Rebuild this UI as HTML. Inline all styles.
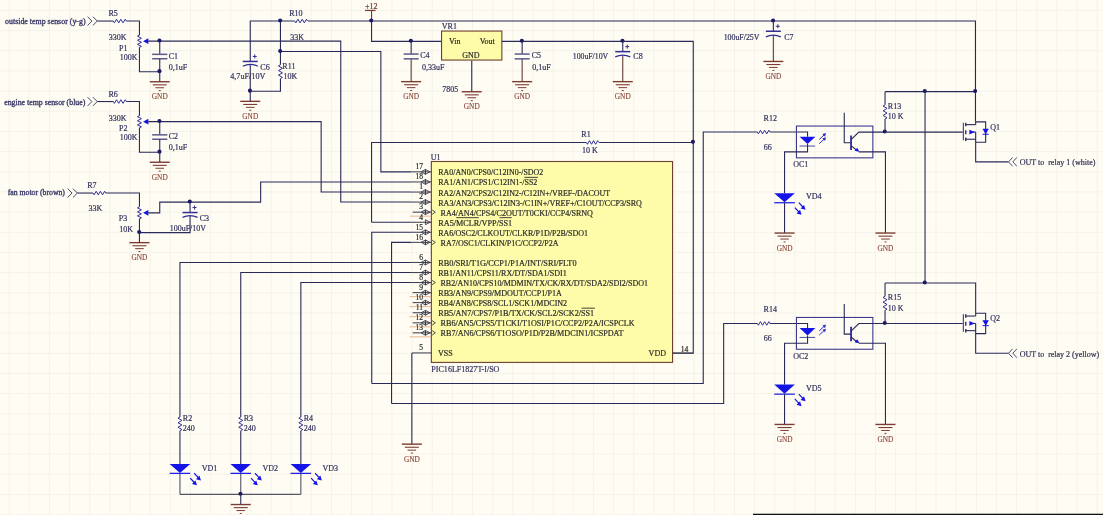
<!DOCTYPE html>
<html><head><meta charset="utf-8"><style>
html,body{margin:0;padding:0;background:#FFFCF4;width:1103px;height:515px;overflow:hidden}
svg{display:block;will-change:transform}
</style></head><body>
<svg width="1103" height="515" viewBox="0 0 1103 515"><rect x="0" y="0" width="1103" height="515" fill="#FFFCF4"/>
<line x1="9.1" y1="0.0" x2="9.1" y2="515.0" stroke="#F5F2EA" stroke-width="1.0"/>
<line x1="29.2" y1="0.0" x2="29.2" y2="515.0" stroke="#F5F2EA" stroke-width="1.0"/>
<line x1="49.4" y1="0.0" x2="49.4" y2="515.0" stroke="#F5F2EA" stroke-width="1.0"/>
<line x1="69.5" y1="0.0" x2="69.5" y2="515.0" stroke="#F5F2EA" stroke-width="1.0"/>
<line x1="89.7" y1="0.0" x2="89.7" y2="515.0" stroke="#F5F2EA" stroke-width="1.0"/>
<line x1="109.8" y1="0.0" x2="109.8" y2="515.0" stroke="#F5F2EA" stroke-width="1.0"/>
<line x1="130.0" y1="0.0" x2="130.0" y2="515.0" stroke="#F5F2EA" stroke-width="1.0"/>
<line x1="150.2" y1="0.0" x2="150.2" y2="515.0" stroke="#F5F2EA" stroke-width="1.0"/>
<line x1="170.3" y1="0.0" x2="170.3" y2="515.0" stroke="#F5F2EA" stroke-width="1.0"/>
<line x1="190.5" y1="0.0" x2="190.5" y2="515.0" stroke="#F5F2EA" stroke-width="1.0"/>
<line x1="210.6" y1="0.0" x2="210.6" y2="515.0" stroke="#F5F2EA" stroke-width="1.0"/>
<line x1="230.8" y1="0.0" x2="230.8" y2="515.0" stroke="#F5F2EA" stroke-width="1.0"/>
<line x1="250.9" y1="0.0" x2="250.9" y2="515.0" stroke="#F5F2EA" stroke-width="1.0"/>
<line x1="271.1" y1="0.0" x2="271.1" y2="515.0" stroke="#F5F2EA" stroke-width="1.0"/>
<line x1="291.2" y1="0.0" x2="291.2" y2="515.0" stroke="#F5F2EA" stroke-width="1.0"/>
<line x1="311.3" y1="0.0" x2="311.3" y2="515.0" stroke="#F5F2EA" stroke-width="1.0"/>
<line x1="331.5" y1="0.0" x2="331.5" y2="515.0" stroke="#F5F2EA" stroke-width="1.0"/>
<line x1="351.6" y1="0.0" x2="351.6" y2="515.0" stroke="#F5F2EA" stroke-width="1.0"/>
<line x1="371.8" y1="0.0" x2="371.8" y2="515.0" stroke="#F5F2EA" stroke-width="1.0"/>
<line x1="391.9" y1="0.0" x2="391.9" y2="515.0" stroke="#F5F2EA" stroke-width="1.0"/>
<line x1="412.1" y1="0.0" x2="412.1" y2="515.0" stroke="#F5F2EA" stroke-width="1.0"/>
<line x1="432.2" y1="0.0" x2="432.2" y2="515.0" stroke="#F5F2EA" stroke-width="1.0"/>
<line x1="452.4" y1="0.0" x2="452.4" y2="515.0" stroke="#F5F2EA" stroke-width="1.0"/>
<line x1="472.5" y1="0.0" x2="472.5" y2="515.0" stroke="#F5F2EA" stroke-width="1.0"/>
<line x1="492.7" y1="0.0" x2="492.7" y2="515.0" stroke="#F5F2EA" stroke-width="1.0"/>
<line x1="512.8" y1="0.0" x2="512.8" y2="515.0" stroke="#F5F2EA" stroke-width="1.0"/>
<line x1="533.0" y1="0.0" x2="533.0" y2="515.0" stroke="#F5F2EA" stroke-width="1.0"/>
<line x1="553.1" y1="0.0" x2="553.1" y2="515.0" stroke="#F5F2EA" stroke-width="1.0"/>
<line x1="573.3" y1="0.0" x2="573.3" y2="515.0" stroke="#F5F2EA" stroke-width="1.0"/>
<line x1="593.4" y1="0.0" x2="593.4" y2="515.0" stroke="#F5F2EA" stroke-width="1.0"/>
<line x1="613.6" y1="0.0" x2="613.6" y2="515.0" stroke="#F5F2EA" stroke-width="1.0"/>
<line x1="633.7" y1="0.0" x2="633.7" y2="515.0" stroke="#F5F2EA" stroke-width="1.0"/>
<line x1="653.9" y1="0.0" x2="653.9" y2="515.0" stroke="#F5F2EA" stroke-width="1.0"/>
<line x1="674.0" y1="0.0" x2="674.0" y2="515.0" stroke="#F5F2EA" stroke-width="1.0"/>
<line x1="694.2" y1="0.0" x2="694.2" y2="515.0" stroke="#F5F2EA" stroke-width="1.0"/>
<line x1="714.3" y1="0.0" x2="714.3" y2="515.0" stroke="#F5F2EA" stroke-width="1.0"/>
<line x1="734.5" y1="0.0" x2="734.5" y2="515.0" stroke="#F5F2EA" stroke-width="1.0"/>
<line x1="754.6" y1="0.0" x2="754.6" y2="515.0" stroke="#F5F2EA" stroke-width="1.0"/>
<line x1="774.8" y1="0.0" x2="774.8" y2="515.0" stroke="#F5F2EA" stroke-width="1.0"/>
<line x1="794.9" y1="0.0" x2="794.9" y2="515.0" stroke="#F5F2EA" stroke-width="1.0"/>
<line x1="815.1" y1="0.0" x2="815.1" y2="515.0" stroke="#F5F2EA" stroke-width="1.0"/>
<line x1="835.2" y1="0.0" x2="835.2" y2="515.0" stroke="#F5F2EA" stroke-width="1.0"/>
<line x1="855.4" y1="0.0" x2="855.4" y2="515.0" stroke="#F5F2EA" stroke-width="1.0"/>
<line x1="875.5" y1="0.0" x2="875.5" y2="515.0" stroke="#F5F2EA" stroke-width="1.0"/>
<line x1="895.7" y1="0.0" x2="895.7" y2="515.0" stroke="#F5F2EA" stroke-width="1.0"/>
<line x1="915.8" y1="0.0" x2="915.8" y2="515.0" stroke="#F5F2EA" stroke-width="1.0"/>
<line x1="936.0" y1="0.0" x2="936.0" y2="515.0" stroke="#F5F2EA" stroke-width="1.0"/>
<line x1="956.1" y1="0.0" x2="956.1" y2="515.0" stroke="#F5F2EA" stroke-width="1.0"/>
<line x1="976.3" y1="0.0" x2="976.3" y2="515.0" stroke="#F5F2EA" stroke-width="1.0"/>
<line x1="996.4" y1="0.0" x2="996.4" y2="515.0" stroke="#F5F2EA" stroke-width="1.0"/>
<line x1="1016.6" y1="0.0" x2="1016.6" y2="515.0" stroke="#F5F2EA" stroke-width="1.0"/>
<line x1="1036.7" y1="0.0" x2="1036.7" y2="515.0" stroke="#F5F2EA" stroke-width="1.0"/>
<line x1="1056.9" y1="0.0" x2="1056.9" y2="515.0" stroke="#F5F2EA" stroke-width="1.0"/>
<line x1="1077.0" y1="0.0" x2="1077.0" y2="515.0" stroke="#F5F2EA" stroke-width="1.0"/>
<line x1="1097.2" y1="0.0" x2="1097.2" y2="515.0" stroke="#F5F2EA" stroke-width="1.0"/>
<line x1="0.0" y1="10.4" x2="1103.0" y2="10.4" stroke="#F5F2EA" stroke-width="1.0"/>
<line x1="0.0" y1="30.6" x2="1103.0" y2="30.6" stroke="#F5F2EA" stroke-width="1.0"/>
<line x1="0.0" y1="50.7" x2="1103.0" y2="50.7" stroke="#F5F2EA" stroke-width="1.0"/>
<line x1="0.0" y1="70.9" x2="1103.0" y2="70.9" stroke="#F5F2EA" stroke-width="1.0"/>
<line x1="0.0" y1="91.1" x2="1103.0" y2="91.1" stroke="#F5F2EA" stroke-width="1.0"/>
<line x1="0.0" y1="111.2" x2="1103.0" y2="111.2" stroke="#F5F2EA" stroke-width="1.0"/>
<line x1="0.0" y1="131.4" x2="1103.0" y2="131.4" stroke="#F5F2EA" stroke-width="1.0"/>
<line x1="0.0" y1="151.6" x2="1103.0" y2="151.6" stroke="#F5F2EA" stroke-width="1.0"/>
<line x1="0.0" y1="171.8" x2="1103.0" y2="171.8" stroke="#F5F2EA" stroke-width="1.0"/>
<line x1="0.0" y1="191.9" x2="1103.0" y2="191.9" stroke="#F5F2EA" stroke-width="1.0"/>
<line x1="0.0" y1="212.1" x2="1103.0" y2="212.1" stroke="#F5F2EA" stroke-width="1.0"/>
<line x1="0.0" y1="232.3" x2="1103.0" y2="232.3" stroke="#F5F2EA" stroke-width="1.0"/>
<line x1="0.0" y1="252.4" x2="1103.0" y2="252.4" stroke="#F5F2EA" stroke-width="1.0"/>
<line x1="0.0" y1="272.6" x2="1103.0" y2="272.6" stroke="#F5F2EA" stroke-width="1.0"/>
<line x1="0.0" y1="292.8" x2="1103.0" y2="292.8" stroke="#F5F2EA" stroke-width="1.0"/>
<line x1="0.0" y1="313.0" x2="1103.0" y2="313.0" stroke="#F5F2EA" stroke-width="1.0"/>
<line x1="0.0" y1="333.1" x2="1103.0" y2="333.1" stroke="#F5F2EA" stroke-width="1.0"/>
<line x1="0.0" y1="353.3" x2="1103.0" y2="353.3" stroke="#F5F2EA" stroke-width="1.0"/>
<line x1="0.0" y1="373.5" x2="1103.0" y2="373.5" stroke="#F5F2EA" stroke-width="1.0"/>
<line x1="0.0" y1="393.6" x2="1103.0" y2="393.6" stroke="#F5F2EA" stroke-width="1.0"/>
<line x1="0.0" y1="413.8" x2="1103.0" y2="413.8" stroke="#F5F2EA" stroke-width="1.0"/>
<line x1="0.0" y1="434.0" x2="1103.0" y2="434.0" stroke="#F5F2EA" stroke-width="1.0"/>
<line x1="0.0" y1="454.1" x2="1103.0" y2="454.1" stroke="#F5F2EA" stroke-width="1.0"/>
<line x1="0.0" y1="474.3" x2="1103.0" y2="474.3" stroke="#F5F2EA" stroke-width="1.0"/>
<line x1="0.0" y1="494.5" x2="1103.0" y2="494.5" stroke="#F5F2EA" stroke-width="1.0"/>
<line x1="0.0" y1="514.7" x2="1103.0" y2="514.7" stroke="#F5F2EA" stroke-width="1.0"/>
<g transform="translate(0.15,0.45)">
<text x="4.9" y="23.9" font-family="'Liberation Serif', serif" font-size="8" fill="#363666" text-anchor="start" textLength="80.5" lengthAdjust="spacingAndGlyphs"  stroke="#363666" stroke-width="0.32" xml:space="preserve">outside temp sensor (y-g)</text>
<polyline points="87.4,16.2 91.8,20.6 87.4,25.0" fill="none" stroke="#4a4a70" stroke-width="1.0"/>
<polyline points="92.7,16.2 97.1,20.6 92.7,25.0" fill="none" stroke="#4a4a70" stroke-width="1.0"/>
<polyline points="97.1,20.6 113.1,20.6" fill="none" stroke="#2a2a58" stroke-width="1.1"/>
<polyline points="113.1,20.6 114.2,22.4 116.4,18.8 118.6,22.4 120.7,18.8 122.9,22.4 125.1,18.8 126.2,20.6" fill="none" stroke="#2f2f96" stroke-width="1.0"/>
<polyline points="126.2,20.6 139.3,20.6 139.3,34.7" fill="none" stroke="#2a2a58" stroke-width="1.1"/>
<polyline points="139.3,34.7 137.3,35.7 141.3,37.8 137.3,39.8 141.3,41.8 137.3,43.9 141.3,45.9 139.3,46.9" fill="none" stroke="#2f2f96" stroke-width="1.0"/>
<polygon points="142.9,40.7 148.2,37.9 148.2,43.5" fill="#1414e6"/>
<polyline points="139.3,46.9 139.3,71.3 159.6,71.3" fill="none" stroke="#2a2a58" stroke-width="1.1"/>
<text x="108.3" y="15.6" font-family="'Liberation Serif', serif" font-size="8" fill="#33335e" text-anchor="start"  stroke="#33335e" stroke-width="0.2" xml:space="preserve">R5</text>
<text x="108.7" y="40.0" font-family="'Liberation Serif', serif" font-size="8" fill="#33335e" text-anchor="start"  stroke="#33335e" stroke-width="0.2" xml:space="preserve">330K</text>
<text x="118.8" y="50.2" font-family="'Liberation Serif', serif" font-size="8" fill="#33335e" text-anchor="start"  stroke="#33335e" stroke-width="0.2" xml:space="preserve">P1</text>
<text x="119.6" y="59.4" font-family="'Liberation Serif', serif" font-size="8" fill="#33335e" text-anchor="start"  stroke="#33335e" stroke-width="0.2" xml:space="preserve">100K</text>
<polyline points="159.6,40.7 159.6,53.9" fill="none" stroke="#2a2a58" stroke-width="1.1"/>
<line x1="152.0" y1="53.9" x2="167.2" y2="53.9" stroke="#5a5a8e" stroke-width="1.5"/>
<line x1="152.0" y1="58.3" x2="167.2" y2="58.3" stroke="#5a5a8e" stroke-width="1.5"/>
<polyline points="159.6,58.3 159.6,81.3" fill="none" stroke="#2a2a58" stroke-width="1.1"/>
<text x="168.5" y="58.3" font-family="'Liberation Serif', serif" font-size="8" fill="#33335e" text-anchor="start"  stroke="#33335e" stroke-width="0.2" xml:space="preserve">C1</text>
<text x="168.5" y="69.5" font-family="'Liberation Serif', serif" font-size="8" fill="#33335e" text-anchor="start"  stroke="#33335e" stroke-width="0.2" xml:space="preserve">0,1uF</text>
<line x1="149.6" y1="81.3" x2="169.6" y2="81.3" stroke="#7c3c32" stroke-width="1.4"/>
<line x1="152.6" y1="84.4" x2="166.6" y2="84.4" stroke="#7c3c32" stroke-width="1.1"/>
<line x1="155.3" y1="87.3" x2="163.9" y2="87.3" stroke="#7c3c32" stroke-width="1.0"/>
<line x1="158.6" y1="90.2" x2="160.6" y2="90.2" stroke="#7c3c32" stroke-width="1.0"/>
<text x="159.6" y="98.8" font-family="'Liberation Serif', serif" font-size="7.3" fill="#8a4538" text-anchor="middle"  stroke="#8a4538" stroke-width="0.12" xml:space="preserve">GND</text>
<text x="4.0" y="104.3" font-family="'Liberation Serif', serif" font-size="8" fill="#363666" text-anchor="start" textLength="81.2" lengthAdjust="spacingAndGlyphs"  stroke="#363666" stroke-width="0.32" xml:space="preserve">engine temp sensor (blue)</text>
<polyline points="87.4,96.7 91.8,101.1 87.4,105.5" fill="none" stroke="#4a4a70" stroke-width="1.0"/>
<polyline points="92.7,96.7 97.1,101.1 92.7,105.5" fill="none" stroke="#4a4a70" stroke-width="1.0"/>
<polyline points="97.1,101.1 113.1,101.1" fill="none" stroke="#2a2a58" stroke-width="1.1"/>
<polyline points="113.1,101.1 114.2,102.9 116.4,99.3 118.6,102.9 120.7,99.3 122.9,102.9 125.1,99.3 126.2,101.1" fill="none" stroke="#2f2f96" stroke-width="1.0"/>
<polyline points="126.2,101.1 139.3,101.1 139.3,115.2" fill="none" stroke="#2a2a58" stroke-width="1.1"/>
<polyline points="139.3,115.2 137.3,116.2 141.3,118.2 137.3,120.3 141.3,122.3 137.3,124.4 141.3,126.4 139.3,127.4" fill="none" stroke="#2f2f96" stroke-width="1.0"/>
<polygon points="142.9,121.2 148.2,118.4 148.2,124.0" fill="#1414e6"/>
<polyline points="139.3,127.4 139.3,151.8 159.6,151.8" fill="none" stroke="#2a2a58" stroke-width="1.1"/>
<text x="108.3" y="96.1" font-family="'Liberation Serif', serif" font-size="8" fill="#33335e" text-anchor="start"  stroke="#33335e" stroke-width="0.2" xml:space="preserve">R6</text>
<text x="108.7" y="120.5" font-family="'Liberation Serif', serif" font-size="8" fill="#33335e" text-anchor="start"  stroke="#33335e" stroke-width="0.2" xml:space="preserve">330K</text>
<text x="118.8" y="130.7" font-family="'Liberation Serif', serif" font-size="8" fill="#33335e" text-anchor="start"  stroke="#33335e" stroke-width="0.2" xml:space="preserve">P2</text>
<text x="119.6" y="139.9" font-family="'Liberation Serif', serif" font-size="8" fill="#33335e" text-anchor="start"  stroke="#33335e" stroke-width="0.2" xml:space="preserve">100K</text>
<polyline points="159.6,121.2 159.6,134.4" fill="none" stroke="#2a2a58" stroke-width="1.1"/>
<line x1="152.0" y1="134.4" x2="167.2" y2="134.4" stroke="#5a5a8e" stroke-width="1.5"/>
<line x1="152.0" y1="138.8" x2="167.2" y2="138.8" stroke="#5a5a8e" stroke-width="1.5"/>
<polyline points="159.6,138.8 159.6,161.8" fill="none" stroke="#2a2a58" stroke-width="1.1"/>
<text x="168.5" y="138.8" font-family="'Liberation Serif', serif" font-size="8" fill="#33335e" text-anchor="start"  stroke="#33335e" stroke-width="0.2" xml:space="preserve">C2</text>
<text x="168.5" y="150.0" font-family="'Liberation Serif', serif" font-size="8" fill="#33335e" text-anchor="start"  stroke="#33335e" stroke-width="0.2" xml:space="preserve">0,1uF</text>
<line x1="149.6" y1="161.8" x2="169.6" y2="161.8" stroke="#7c3c32" stroke-width="1.4"/>
<line x1="152.6" y1="164.9" x2="166.6" y2="164.9" stroke="#7c3c32" stroke-width="1.1"/>
<line x1="155.3" y1="167.8" x2="163.9" y2="167.8" stroke="#7c3c32" stroke-width="1.0"/>
<line x1="158.6" y1="170.7" x2="160.6" y2="170.7" stroke="#7c3c32" stroke-width="1.0"/>
<text x="159.6" y="179.3" font-family="'Liberation Serif', serif" font-size="7.3" fill="#8a4538" text-anchor="middle"  stroke="#8a4538" stroke-width="0.12" xml:space="preserve">GND</text>
<polyline points="148.0,40.7 340.6,40.7 340.6,201.6 411.0,201.6" fill="none" stroke="#2a2a58" stroke-width="1.1"/>
<polyline points="148.0,121.2 321.0,121.2 321.0,191.6 411.0,191.6" fill="none" stroke="#2a2a58" stroke-width="1.1"/>
<circle cx="159.3" cy="40.1" r="2.05" fill="#1a1a66"/>
<circle cx="159.3" cy="70.7" r="2.05" fill="#1a1a66"/>
<circle cx="159.3" cy="120.6" r="2.05" fill="#1a1a66"/>
<circle cx="159.3" cy="151.2" r="2.05" fill="#1a1a66"/>
<text x="7.6" y="194.4" font-family="'Liberation Serif', serif" font-size="8" fill="#363666" text-anchor="start" textLength="57.2" lengthAdjust="spacingAndGlyphs"  stroke="#363666" stroke-width="0.32" xml:space="preserve">fan motor (brown)</text>
<polyline points="67.5,188.2 71.9,192.6 67.5,197.0" fill="none" stroke="#4a4a70" stroke-width="1.0"/>
<polyline points="72.8,188.2 77.2,192.6 72.8,197.0" fill="none" stroke="#4a4a70" stroke-width="1.0"/>
<polyline points="77.2,192.6 92.8,192.6" fill="none" stroke="#2a2a58" stroke-width="1.1"/>
<polyline points="92.8,192.6 93.9,194.4 96.0,190.8 98.1,194.4 100.3,190.8 102.4,194.4 104.5,190.8 105.6,192.6" fill="none" stroke="#2f2f96" stroke-width="1.0"/>
<polyline points="105.6,192.6 139.3,192.6 139.3,206.4" fill="none" stroke="#2a2a58" stroke-width="1.1"/>
<polyline points="139.3,206.4 137.3,207.4 141.3,209.4 137.3,211.4 141.3,213.4 137.3,215.4 141.3,217.4 139.3,218.4" fill="none" stroke="#2f2f96" stroke-width="1.0"/>
<polygon points="142.9,212.4 148.2,209.6 148.2,215.2" fill="#1414e6"/>
<polyline points="139.3,218.4 139.3,232.2 189.9,232.2 189.9,215.3" fill="none" stroke="#2a2a58" stroke-width="1.1"/>
<text x="87.0" y="187.8" font-family="'Liberation Serif', serif" font-size="8" fill="#33335e" text-anchor="start"  stroke="#33335e" stroke-width="0.2" xml:space="preserve">R7</text>
<text x="88.4" y="210.5" font-family="'Liberation Serif', serif" font-size="8" fill="#33335e" text-anchor="start"  stroke="#33335e" stroke-width="0.2" xml:space="preserve">33K</text>
<text x="118.7" y="221.0" font-family="'Liberation Serif', serif" font-size="8" fill="#33335e" text-anchor="start"  stroke="#33335e" stroke-width="0.2" xml:space="preserve">P3</text>
<text x="119.0" y="231.1" font-family="'Liberation Serif', serif" font-size="8" fill="#33335e" text-anchor="start"  stroke="#33335e" stroke-width="0.2" xml:space="preserve">10K</text>
<polyline points="148.0,212.4 159.6,212.4 159.6,201.7 260.5,201.7 260.5,181.5 411.0,181.5" fill="none" stroke="#2a2a58" stroke-width="1.1"/>
<polyline points="189.9,201.7 189.9,212.1" fill="none" stroke="#2a2a58" stroke-width="1.1"/>
<line x1="182.4" y1="212.1" x2="197.4" y2="212.1" stroke="#2f2f96" stroke-width="1.5"/>
<path d="M182.4,216.9 Q189.9,213.3 197.4,216.9" fill="none" stroke="#2f2f96" stroke-width="1.3"/>
<line x1="192.4" y1="207.1" x2="196.4" y2="207.1" stroke="#2f2f96" stroke-width="1.0"/>
<line x1="194.4" y1="205.1" x2="194.4" y2="209.1" stroke="#2f2f96" stroke-width="1.0"/>
<text x="199.5" y="221.0" font-family="'Liberation Serif', serif" font-size="8" fill="#33335e" text-anchor="start"  stroke="#33335e" stroke-width="0.2" xml:space="preserve">C3</text>
<text x="169.6" y="230.6" font-family="'Liberation Serif', serif" font-size="8" fill="#33335e" text-anchor="start" textLength="36.2" lengthAdjust="spacingAndGlyphs"  stroke="#33335e" stroke-width="0.2" xml:space="preserve">100uF/10V</text>
<circle cx="189.6" cy="201.1" r="2.05" fill="#1a1a66"/>
<circle cx="139.0" cy="231.6" r="2.05" fill="#1a1a66"/>
<line x1="129.3" y1="242.2" x2="149.3" y2="242.2" stroke="#7c3c32" stroke-width="1.4"/>
<line x1="132.3" y1="245.3" x2="146.3" y2="245.3" stroke="#7c3c32" stroke-width="1.1"/>
<line x1="135.0" y1="248.2" x2="143.6" y2="248.2" stroke="#7c3c32" stroke-width="1.0"/>
<line x1="138.3" y1="251.1" x2="140.3" y2="251.1" stroke="#7c3c32" stroke-width="1.0"/>
<text x="139.3" y="259.7" font-family="'Liberation Serif', serif" font-size="7.3" fill="#8a4538" text-anchor="middle"  stroke="#8a4538" stroke-width="0.12" xml:space="preserve">GND</text>
<polyline points="139.3,232.2 139.3,242.2" fill="none" stroke="#2a2a58" stroke-width="1.1"/>
<polyline points="250.1,61.0 250.1,20.6 975.3,20.6 975.3,121.4" fill="none" stroke="#2a2a58" stroke-width="1.1"/>
<polyline points="250.1,64.3 250.1,90.8" fill="none" stroke="#2a2a58" stroke-width="1.1"/>
<rect x="294.6" y="19.6" width="13" height="2" fill="#FFFCF4"/>
<polyline points="294.6,20.6 295.7,22.4 297.8,18.8 299.9,22.4 302.1,18.8 304.2,22.4 306.3,18.8 307.4,20.6" fill="none" stroke="#2f2f96" stroke-width="1.0"/>
<text x="289.0" y="15.8" font-family="'Liberation Serif', serif" font-size="8" fill="#33335e" text-anchor="start"  stroke="#33335e" stroke-width="0.2" xml:space="preserve">R10</text>
<text x="290.2" y="39.8" font-family="'Liberation Serif', serif" font-size="8" fill="#33335e" text-anchor="start"  stroke="#33335e" stroke-width="0.2" xml:space="preserve">33K</text>
<line x1="242.6" y1="61.0" x2="257.6" y2="61.0" stroke="#2f2f96" stroke-width="1.5"/>
<path d="M242.6,65.8 Q250.1,62.2 257.6,65.8" fill="none" stroke="#2f2f96" stroke-width="1.3"/>
<line x1="252.6" y1="56.0" x2="256.6" y2="56.0" stroke="#2f2f96" stroke-width="1.0"/>
<line x1="254.6" y1="54.0" x2="254.6" y2="58.0" stroke="#2f2f96" stroke-width="1.0"/>
<text x="260.2" y="69.6" font-family="'Liberation Serif', serif" font-size="8" fill="#33335e" text-anchor="start"  stroke="#33335e" stroke-width="0.2" xml:space="preserve">C6</text>
<text x="230.0" y="79.0" font-family="'Liberation Serif', serif" font-size="8" fill="#33335e" text-anchor="start" textLength="35.3" lengthAdjust="spacingAndGlyphs"  stroke="#33335e" stroke-width="0.2" xml:space="preserve">4,7uF/10V</text>
<polyline points="250.1,90.8 280.3,90.8 280.3,78.2" fill="none" stroke="#2a2a58" stroke-width="1.1"/>
<polyline points="280.3,20.6 280.3,64.3" fill="none" stroke="#2a2a58" stroke-width="1.1"/>
<polyline points="280.3,64.3 278.3,65.5 282.3,67.8 278.3,70.1 282.3,72.4 278.3,74.7 282.3,77.0 280.3,78.2" fill="none" stroke="#2f2f96" stroke-width="1.0"/>
<text x="282.2" y="68.8" font-family="'Liberation Serif', serif" font-size="8" fill="#33335e" text-anchor="start"  stroke="#33335e" stroke-width="0.2" xml:space="preserve">R11</text>
<text x="283.4" y="78.9" font-family="'Liberation Serif', serif" font-size="8" fill="#33335e" text-anchor="start"  stroke="#33335e" stroke-width="0.2" xml:space="preserve">10K</text>
<polyline points="280.3,51.1 380.7,51.1 380.7,171.4 411.0,171.4" fill="none" stroke="#2a2a58" stroke-width="1.1"/>
<circle cx="249.8" cy="90.2" r="2.05" fill="#1a1a66"/>
<circle cx="280.0" cy="20.0" r="2.05" fill="#1a1a66"/>
<circle cx="280.0" cy="50.5" r="2.05" fill="#1a1a66"/>
<line x1="240.1" y1="100.9" x2="260.1" y2="100.9" stroke="#7c3c32" stroke-width="1.4"/>
<line x1="243.1" y1="104.0" x2="257.1" y2="104.0" stroke="#7c3c32" stroke-width="1.1"/>
<line x1="245.8" y1="106.9" x2="254.4" y2="106.9" stroke="#7c3c32" stroke-width="1.0"/>
<line x1="249.1" y1="109.8" x2="251.1" y2="109.8" stroke="#7c3c32" stroke-width="1.0"/>
<text x="250.1" y="118.4" font-family="'Liberation Serif', serif" font-size="7.3" fill="#8a4538" text-anchor="middle"  stroke="#8a4538" stroke-width="0.12" xml:space="preserve">GND</text>
<polyline points="250.1,90.8 250.1,100.9" fill="none" stroke="#2a2a58" stroke-width="1.1"/>
<line x1="371.4" y1="10.0" x2="371.4" y2="20.6" stroke="#7c3c32" stroke-width="1.1"/>
<line x1="364.9" y1="10.0" x2="375.4" y2="10.0" stroke="#7c3c32" stroke-width="1.3"/>
<text x="371.1" y="9.0" font-family="'Liberation Serif', serif" font-size="8" fill="#6a3a30" text-anchor="middle"  stroke="#6a3a30" stroke-width="0.2" xml:space="preserve">+12</text>
<circle cx="371.1" cy="20.0" r="2.05" fill="#1a1a66"/>
<polyline points="371.4,20.6 371.4,40.9 441.5,40.9" fill="none" stroke="#2a2a58" stroke-width="1.1"/>
<circle cx="410.7" cy="40.3" r="2.05" fill="#1a1a66"/>
<polyline points="411.0,40.9 411.0,53.6" fill="none" stroke="#2a2a58" stroke-width="1.1"/>
<polyline points="411.0,58.4 411.0,81.2" fill="none" stroke="#5e3c36" stroke-width="1.1"/>
<line x1="403.5" y1="53.6" x2="418.5" y2="53.6" stroke="#5a5a8e" stroke-width="1.5"/>
<line x1="403.5" y1="58.4" x2="418.5" y2="58.4" stroke="#5a5a8e" stroke-width="1.5"/>
<text x="420.0" y="57.5" font-family="'Liberation Serif', serif" font-size="8" fill="#33335e" text-anchor="start"  stroke="#33335e" stroke-width="0.2" xml:space="preserve">C4</text>
<text x="421.8" y="69.6" font-family="'Liberation Serif', serif" font-size="8" fill="#33335e" text-anchor="start"  stroke="#33335e" stroke-width="0.2" xml:space="preserve">0,33uF</text>
<line x1="401.0" y1="81.2" x2="421.0" y2="81.2" stroke="#7c3c32" stroke-width="1.4"/>
<line x1="404.0" y1="84.3" x2="418.0" y2="84.3" stroke="#7c3c32" stroke-width="1.1"/>
<line x1="406.7" y1="87.2" x2="415.3" y2="87.2" stroke="#7c3c32" stroke-width="1.0"/>
<line x1="410.0" y1="90.1" x2="412.0" y2="90.1" stroke="#7c3c32" stroke-width="1.0"/>
<text x="411.0" y="98.7" font-family="'Liberation Serif', serif" font-size="7.3" fill="#8a4538" text-anchor="middle"  stroke="#8a4538" stroke-width="0.12" xml:space="preserve">GND</text>
<rect x="441.4" y="30.6" width="60.3" height="29" fill="#FEFCA8" stroke="#6e4030" stroke-width="1.1"/>
<text x="441.7" y="28.6" font-family="'Liberation Serif', serif" font-size="8" fill="#33335e" text-anchor="start"  stroke="#33335e" stroke-width="0.2" xml:space="preserve">VR1</text>
<text x="448.9" y="43.7" font-family="'Liberation Serif', serif" font-size="8" fill="#2c2c2c" text-anchor="start"  stroke="#2c2c2c" stroke-width="0.2" xml:space="preserve">Vin</text>
<text x="479.5" y="43.7" font-family="'Liberation Serif', serif" font-size="8" fill="#2c2c2c" text-anchor="start"  stroke="#2c2c2c" stroke-width="0.2" xml:space="preserve">Vout</text>
<text x="462.0" y="57.3" font-family="'Liberation Serif', serif" font-size="8" fill="#2c2c2c" text-anchor="start"  stroke="#2c2c2c" stroke-width="0.2" xml:space="preserve">GND</text>
<text x="442.0" y="91.4" font-family="'Liberation Serif', serif" font-size="8" fill="#33335e" text-anchor="start"  stroke="#33335e" stroke-width="0.2" xml:space="preserve">7805</text>
<polyline points="471.6,60.0 471.6,91.3" fill="none" stroke="#2a2a58" stroke-width="1.1"/>
<line x1="461.6" y1="91.3" x2="481.6" y2="91.3" stroke="#7c3c32" stroke-width="1.4"/>
<line x1="464.6" y1="94.4" x2="478.6" y2="94.4" stroke="#7c3c32" stroke-width="1.1"/>
<line x1="467.3" y1="97.3" x2="475.9" y2="97.3" stroke="#7c3c32" stroke-width="1.0"/>
<line x1="470.6" y1="100.2" x2="472.6" y2="100.2" stroke="#7c3c32" stroke-width="1.0"/>
<text x="471.6" y="108.8" font-family="'Liberation Serif', serif" font-size="7.3" fill="#8a4538" text-anchor="middle"  stroke="#8a4538" stroke-width="0.12" xml:space="preserve">GND</text>
<polyline points="501.8,40.9 693.1,40.9 693.1,352.8 672.4,352.8" fill="none" stroke="#2a2a58" stroke-width="1.1"/>
<circle cx="521.7" cy="40.3" r="2.05" fill="#1a1a66"/>
<circle cx="622.3" cy="40.3" r="2.05" fill="#1a1a66"/>
<circle cx="692.8" cy="141.4" r="2.05" fill="#1a1a66"/>
<polyline points="522.0,40.9 522.0,53.6" fill="none" stroke="#2a2a58" stroke-width="1.1"/>
<polyline points="522.0,58.4 522.0,81.2" fill="none" stroke="#5e3c36" stroke-width="1.1"/>
<line x1="514.5" y1="53.6" x2="529.5" y2="53.6" stroke="#5a5a8e" stroke-width="1.5"/>
<line x1="514.5" y1="58.4" x2="529.5" y2="58.4" stroke="#5a5a8e" stroke-width="1.5"/>
<text x="531.5" y="57.5" font-family="'Liberation Serif', serif" font-size="8" fill="#33335e" text-anchor="start"  stroke="#33335e" stroke-width="0.2" xml:space="preserve">C5</text>
<text x="532.0" y="69.6" font-family="'Liberation Serif', serif" font-size="8" fill="#33335e" text-anchor="start"  stroke="#33335e" stroke-width="0.2" xml:space="preserve">0,1uF</text>
<line x1="512.0" y1="81.2" x2="532.0" y2="81.2" stroke="#7c3c32" stroke-width="1.4"/>
<line x1="515.0" y1="84.3" x2="529.0" y2="84.3" stroke="#7c3c32" stroke-width="1.1"/>
<line x1="517.7" y1="87.2" x2="526.3" y2="87.2" stroke="#7c3c32" stroke-width="1.0"/>
<line x1="521.0" y1="90.1" x2="523.0" y2="90.1" stroke="#7c3c32" stroke-width="1.0"/>
<text x="522.0" y="98.7" font-family="'Liberation Serif', serif" font-size="7.3" fill="#8a4538" text-anchor="middle"  stroke="#8a4538" stroke-width="0.12" xml:space="preserve">GND</text>
<polyline points="622.6,40.9 622.6,51.2" fill="none" stroke="#2a2a58" stroke-width="1.1"/>
<polyline points="622.6,55.0 622.6,81.2" fill="none" stroke="#5e3c36" stroke-width="1.1"/>
<line x1="615.1" y1="51.2" x2="630.1" y2="51.2" stroke="#2f2f96" stroke-width="1.5"/>
<path d="M615.1,56.5 Q622.6,52.9 630.1,56.5" fill="none" stroke="#2f2f96" stroke-width="1.3"/>
<line x1="625.1" y1="46.2" x2="629.1" y2="46.2" stroke="#2f2f96" stroke-width="1.0"/>
<line x1="627.1" y1="44.2" x2="627.1" y2="48.2" stroke="#2f2f96" stroke-width="1.0"/>
<text x="633.2" y="58.7" font-family="'Liberation Serif', serif" font-size="8" fill="#33335e" text-anchor="start"  stroke="#33335e" stroke-width="0.2" xml:space="preserve">C8</text>
<text x="572.6" y="58.7" font-family="'Liberation Serif', serif" font-size="8" fill="#33335e" text-anchor="start" textLength="35.4" lengthAdjust="spacingAndGlyphs"  stroke="#33335e" stroke-width="0.2" xml:space="preserve">100uF/10V</text>
<line x1="612.6" y1="81.2" x2="632.6" y2="81.2" stroke="#7c3c32" stroke-width="1.4"/>
<line x1="615.6" y1="84.3" x2="629.6" y2="84.3" stroke="#7c3c32" stroke-width="1.1"/>
<line x1="618.3" y1="87.2" x2="626.9" y2="87.2" stroke="#7c3c32" stroke-width="1.0"/>
<line x1="621.6" y1="90.1" x2="623.6" y2="90.1" stroke="#7c3c32" stroke-width="1.0"/>
<text x="622.6" y="98.7" font-family="'Liberation Serif', serif" font-size="7.3" fill="#8a4538" text-anchor="middle"  stroke="#8a4538" stroke-width="0.12" xml:space="preserve">GND</text>
<circle cx="772.9" cy="20.0" r="2.05" fill="#1a1a66"/>
<polyline points="773.2,20.6 773.2,30.8" fill="none" stroke="#2a2a58" stroke-width="1.1"/>
<polyline points="773.2,34.8 773.2,61.0" fill="none" stroke="#5e3c36" stroke-width="1.1"/>
<line x1="765.7" y1="30.8" x2="780.7" y2="30.8" stroke="#2f2f96" stroke-width="1.5"/>
<path d="M765.7,36.4 Q773.2,32.8 780.7,36.4" fill="none" stroke="#2f2f96" stroke-width="1.3"/>
<line x1="775.7" y1="25.8" x2="779.7" y2="25.8" stroke="#2f2f96" stroke-width="1.0"/>
<line x1="777.7" y1="23.8" x2="777.7" y2="27.8" stroke="#2f2f96" stroke-width="1.0"/>
<text x="784.1" y="39.8" font-family="'Liberation Serif', serif" font-size="8" fill="#33335e" text-anchor="start"  stroke="#33335e" stroke-width="0.2" xml:space="preserve">C7</text>
<text x="723.5" y="39.8" font-family="'Liberation Serif', serif" font-size="8" fill="#33335e" text-anchor="start" textLength="35.8" lengthAdjust="spacingAndGlyphs"  stroke="#33335e" stroke-width="0.2" xml:space="preserve">100uF/25V</text>
<line x1="763.2" y1="61.0" x2="783.2" y2="61.0" stroke="#7c3c32" stroke-width="1.4"/>
<line x1="766.2" y1="64.1" x2="780.2" y2="64.1" stroke="#7c3c32" stroke-width="1.1"/>
<line x1="768.9" y1="67.0" x2="777.5" y2="67.0" stroke="#7c3c32" stroke-width="1.0"/>
<line x1="772.2" y1="69.9" x2="774.2" y2="69.9" stroke="#7c3c32" stroke-width="1.0"/>
<text x="773.2" y="78.5" font-family="'Liberation Serif', serif" font-size="7.3" fill="#8a4538" text-anchor="middle"  stroke="#8a4538" stroke-width="0.12" xml:space="preserve">GND</text>
<polyline points="371.4,221.8 371.4,142.0 693.1,142.0" fill="none" stroke="#2a2a58" stroke-width="1.1"/>
<rect x="586" y="141" width="13" height="2" fill="#FFFCF4"/>
<polyline points="586.2,142.0 587.2,143.8 589.3,140.2 591.4,143.8 593.4,140.2 595.5,143.8 597.6,140.2 598.6,142.0" fill="none" stroke="#2f2f96" stroke-width="1.0"/>
<text x="581.2" y="136.6" font-family="'Liberation Serif', serif" font-size="8" fill="#33335e" text-anchor="start"  stroke="#33335e" stroke-width="0.2" xml:space="preserve">R1</text>
<text x="581.8" y="153.0" font-family="'Liberation Serif', serif" font-size="8" fill="#33335e" text-anchor="start"  stroke="#33335e" stroke-width="0.2" xml:space="preserve">10 K</text>
<polyline points="371.4,221.8 411.0,221.8" fill="none" stroke="#2a2a58" stroke-width="1.1"/>
<rect x="431.2" y="161.05" width="241.2" height="200.9" fill="#FEFCA8" stroke="#6e4030" stroke-width="1.1"/>
<text x="430.7" y="160.0" font-family="'Liberation Serif', serif" font-size="8" fill="#33335e" text-anchor="start"  stroke="#33335e" stroke-width="0.2" xml:space="preserve">U1</text>
<text x="431.2" y="372.0" font-family="'Liberation Serif', serif" font-size="8" fill="#33335e" text-anchor="start" textLength="68.1" lengthAdjust="spacingAndGlyphs"  stroke="#33335e" stroke-width="0.2" xml:space="preserve">PIC16LF1827T-I/SO</text>
<line x1="411.0" y1="171.4" x2="431.4" y2="171.4" stroke="#3a3a48" stroke-width="1.0"/>
<polygon points="421.0,171.4 425.3,169.0 425.3,173.8" fill="none" stroke="#3a3a48" stroke-width="0.9"/>
<polygon points="425.3,169.0 429.8,171.4 425.3,173.8" fill="none" stroke="#3a3a48" stroke-width="0.9"/>
<text x="423.0" y="168.8" font-family="'Liberation Serif', serif" font-size="7.6" fill="#2c2c2c" text-anchor="end"  stroke="#2c2c2c" stroke-width="0.2" xml:space="preserve">17</text>
<text x="438.1" y="174.9" font-family="'Liberation Serif', serif" font-size="8" fill="#2c2c2c" stroke="#2c2c2c" stroke-width="0.2" textLength="105.0" lengthAdjust="spacingAndGlyphs">RA0/AN0/CPS0/C12IN0-/SDO2</text>
<line x1="411.0" y1="181.5" x2="431.4" y2="181.5" stroke="#3a3a48" stroke-width="1.0"/>
<polygon points="421.0,181.5 425.3,179.1 425.3,183.9" fill="none" stroke="#3a3a48" stroke-width="0.9"/>
<polygon points="425.3,179.1 429.8,181.5 425.3,183.9" fill="none" stroke="#3a3a48" stroke-width="0.9"/>
<text x="423.0" y="178.9" font-family="'Liberation Serif', serif" font-size="7.6" fill="#2c2c2c" text-anchor="end"  stroke="#2c2c2c" stroke-width="0.2" xml:space="preserve">18</text>
<text x="438.1" y="185.0" font-family="'Liberation Serif', serif" font-size="8" fill="#2c2c2c" stroke="#2c2c2c" stroke-width="0.2" textLength="99.1" lengthAdjust="spacingAndGlyphs">RA1/AN1/CPS1/C12IN1-/SS2</text>
<line x1="411.0" y1="191.6" x2="431.4" y2="191.6" stroke="#3a3a48" stroke-width="1.0"/>
<polygon points="421.0,191.6 425.3,189.2 425.3,194.0" fill="none" stroke="#3a3a48" stroke-width="0.9"/>
<polygon points="425.3,189.2 429.8,191.6 425.3,194.0" fill="none" stroke="#3a3a48" stroke-width="0.9"/>
<text x="423.0" y="188.9" font-family="'Liberation Serif', serif" font-size="7.6" fill="#2c2c2c" text-anchor="end"  stroke="#2c2c2c" stroke-width="0.2" xml:space="preserve">1</text>
<text x="438.1" y="195.1" font-family="'Liberation Serif', serif" font-size="8" fill="#2c2c2c" stroke="#2c2c2c" stroke-width="0.2" textLength="171.9" lengthAdjust="spacingAndGlyphs">RA2/AN2/CPS2/C12IN2-/C12IN+/VREF-/DACOUT</text>
<line x1="411.0" y1="201.6" x2="431.4" y2="201.6" stroke="#3a3a48" stroke-width="1.0"/>
<polygon points="421.0,201.6 425.3,199.2 425.3,204.0" fill="none" stroke="#3a3a48" stroke-width="0.9"/>
<polygon points="425.3,199.2 429.8,201.6 425.3,204.0" fill="none" stroke="#3a3a48" stroke-width="0.9"/>
<text x="423.0" y="199.0" font-family="'Liberation Serif', serif" font-size="7.6" fill="#2c2c2c" text-anchor="end"  stroke="#2c2c2c" stroke-width="0.2" xml:space="preserve">2</text>
<text x="438.1" y="205.1" font-family="'Liberation Serif', serif" font-size="8" fill="#2c2c2c" stroke="#2c2c2c" stroke-width="0.2" textLength="203.6" lengthAdjust="spacingAndGlyphs">RA3/AN3/CPS3/C12IN3-/C1IN+/VREF+/C1OUT/CCP3/SRQ</text>
<line x1="412.5" y1="211.7" x2="431.4" y2="211.7" stroke="#3a3a48" stroke-width="1.0"/>
<line x1="409.5" y1="215.7" x2="431.0" y2="215.7" stroke="#E7B48E" stroke-width="1.0"/>
<polygon points="421.0,211.7 425.3,209.3 425.3,214.1" fill="none" stroke="#3a3a48" stroke-width="0.9"/>
<polygon points="425.3,209.3 429.8,211.7 425.3,214.1" fill="none" stroke="#3a3a48" stroke-width="0.9"/>
<polyline points="432.0,209.5 435.2,211.7 432.0,213.9" fill="none" stroke="#3a3a48" stroke-width="0.9"/>
<text x="423.0" y="209.0" font-family="'Liberation Serif', serif" font-size="7.6" fill="#2c2c2c" text-anchor="end"  stroke="#2c2c2c" stroke-width="0.2" xml:space="preserve">3</text>
<text x="440.4" y="215.2" font-family="'Liberation Serif', serif" font-size="8" fill="#2c2c2c" stroke="#2c2c2c" stroke-width="0.2" textLength="152.4" lengthAdjust="spacingAndGlyphs">RA4/AN4/CPS4/C2OUT/T0CKI/CCP4/SRNQ</text>
<line x1="411.0" y1="221.8" x2="431.4" y2="221.8" stroke="#3a3a48" stroke-width="1.0"/>
<polygon points="425.3,219.3 430.0,221.8 425.3,224.2" fill="none" stroke="#3a3a48" stroke-width="0.9"/>
<text x="423.0" y="219.1" font-family="'Liberation Serif', serif" font-size="7.6" fill="#2c2c2c" text-anchor="end"  stroke="#2c2c2c" stroke-width="0.2" xml:space="preserve">4</text>
<text x="438.1" y="225.2" font-family="'Liberation Serif', serif" font-size="8" fill="#2c2c2c" stroke="#2c2c2c" stroke-width="0.2" textLength="73.9" lengthAdjust="spacingAndGlyphs">RA5/MCLR/VPP/SS1</text>
<line x1="411.0" y1="231.8" x2="431.4" y2="231.8" stroke="#3a3a48" stroke-width="1.0"/>
<polygon points="421.0,231.8 425.3,229.4 425.3,234.2" fill="none" stroke="#3a3a48" stroke-width="0.9"/>
<polygon points="425.3,229.4 429.8,231.8 425.3,234.2" fill="none" stroke="#3a3a48" stroke-width="0.9"/>
<text x="423.0" y="229.2" font-family="'Liberation Serif', serif" font-size="7.6" fill="#2c2c2c" text-anchor="end"  stroke="#2c2c2c" stroke-width="0.2" xml:space="preserve">15</text>
<text x="438.1" y="235.3" font-family="'Liberation Serif', serif" font-size="8" fill="#2c2c2c" stroke="#2c2c2c" stroke-width="0.2" textLength="149.8" lengthAdjust="spacingAndGlyphs">RA6/OSC2/CLKOUT/CLKR/P1D/P2B/SDO1</text>
<line x1="411.0" y1="241.9" x2="431.4" y2="241.9" stroke="#3a3a48" stroke-width="1.0"/>
<polygon points="421.0,241.9 425.3,239.5 425.3,244.3" fill="none" stroke="#3a3a48" stroke-width="0.9"/>
<polygon points="425.3,239.5 429.8,241.9 425.3,244.3" fill="none" stroke="#3a3a48" stroke-width="0.9"/>
<polyline points="432.0,239.7 435.2,241.9 432.0,244.1" fill="none" stroke="#3a3a48" stroke-width="0.9"/>
<text x="423.0" y="239.2" font-family="'Liberation Serif', serif" font-size="7.6" fill="#2c2c2c" text-anchor="end"  stroke="#2c2c2c" stroke-width="0.2" xml:space="preserve">16</text>
<text x="440.4" y="245.4" font-family="'Liberation Serif', serif" font-size="8" fill="#2c2c2c" stroke="#2c2c2c" stroke-width="0.2" textLength="118.1" lengthAdjust="spacingAndGlyphs">RA7/OSC1/CLKIN/P1C/CCP2/P2A</text>
<line x1="411.0" y1="262.0" x2="431.4" y2="262.0" stroke="#3a3a48" stroke-width="1.0"/>
<polygon points="421.0,262.0 425.3,259.6 425.3,264.4" fill="none" stroke="#3a3a48" stroke-width="0.9"/>
<polygon points="425.3,259.6 429.8,262.0 425.3,264.4" fill="none" stroke="#3a3a48" stroke-width="0.9"/>
<text x="423.0" y="259.3" font-family="'Liberation Serif', serif" font-size="7.6" fill="#2c2c2c" text-anchor="end"  stroke="#2c2c2c" stroke-width="0.2" xml:space="preserve">6</text>
<text x="438.1" y="265.5" font-family="'Liberation Serif', serif" font-size="8" fill="#2c2c2c" stroke="#2c2c2c" stroke-width="0.2" textLength="138.3" lengthAdjust="spacingAndGlyphs">RB0/SRI/T1G/CCP1/P1A/INT/SRI/FLT0</text>
<line x1="411.0" y1="272.1" x2="431.4" y2="272.1" stroke="#3a3a48" stroke-width="1.0"/>
<polygon points="421.0,272.1 425.3,269.7 425.3,274.4" fill="none" stroke="#3a3a48" stroke-width="0.9"/>
<polygon points="425.3,269.7 429.8,272.1 425.3,274.4" fill="none" stroke="#3a3a48" stroke-width="0.9"/>
<text x="423.0" y="269.4" font-family="'Liberation Serif', serif" font-size="7.6" fill="#2c2c2c" text-anchor="end"  stroke="#2c2c2c" stroke-width="0.2" xml:space="preserve">7</text>
<text x="438.1" y="275.6" font-family="'Liberation Serif', serif" font-size="8" fill="#2c2c2c" stroke="#2c2c2c" stroke-width="0.2" textLength="128.5" lengthAdjust="spacingAndGlyphs">RB1/AN11/CPS11/RX/DT/SDA1/SDI1</text>
<line x1="411.0" y1="282.1" x2="431.4" y2="282.1" stroke="#3a3a48" stroke-width="1.0"/>
<polygon points="421.0,282.1 425.3,279.7 425.3,284.5" fill="none" stroke="#3a3a48" stroke-width="0.9"/>
<polygon points="425.3,279.7 429.8,282.1 425.3,284.5" fill="none" stroke="#3a3a48" stroke-width="0.9"/>
<polyline points="432.0,279.9 435.2,282.1 432.0,284.3" fill="none" stroke="#3a3a48" stroke-width="0.9"/>
<text x="423.0" y="279.5" font-family="'Liberation Serif', serif" font-size="7.6" fill="#2c2c2c" text-anchor="end"  stroke="#2c2c2c" stroke-width="0.2" xml:space="preserve">8</text>
<text x="440.4" y="285.6" font-family="'Liberation Serif', serif" font-size="8" fill="#2c2c2c" stroke="#2c2c2c" stroke-width="0.2" textLength="207.5" lengthAdjust="spacingAndGlyphs">RB2/AN10/CPS10/MDMIN/TX/CK/RX/DT/SDA2/SDI2/SDO1</text>
<line x1="412.5" y1="292.2" x2="431.4" y2="292.2" stroke="#3a3a48" stroke-width="1.0"/>
<line x1="409.5" y1="296.2" x2="431.0" y2="296.2" stroke="#E7B48E" stroke-width="1.0"/>
<polygon points="421.0,292.2 425.3,289.8 425.3,294.6" fill="none" stroke="#3a3a48" stroke-width="0.9"/>
<polygon points="425.3,289.8 429.8,292.2 425.3,294.6" fill="none" stroke="#3a3a48" stroke-width="0.9"/>
<text x="423.0" y="289.5" font-family="'Liberation Serif', serif" font-size="7.6" fill="#2c2c2c" text-anchor="end"  stroke="#2c2c2c" stroke-width="0.2" xml:space="preserve">9</text>
<text x="438.1" y="295.7" font-family="'Liberation Serif', serif" font-size="8" fill="#2c2c2c" stroke="#2c2c2c" stroke-width="0.2" textLength="123.6" lengthAdjust="spacingAndGlyphs">RB3/AN9/CPS9/MDOUT/CCP1/P1A</text>
<line x1="412.5" y1="302.2" x2="431.4" y2="302.2" stroke="#3a3a48" stroke-width="1.0"/>
<line x1="409.5" y1="306.2" x2="431.0" y2="306.2" stroke="#E7B48E" stroke-width="1.0"/>
<polygon points="421.0,302.2 425.3,299.8 425.3,304.6" fill="none" stroke="#3a3a48" stroke-width="0.9"/>
<polygon points="425.3,299.8 429.8,302.2 425.3,304.6" fill="none" stroke="#3a3a48" stroke-width="0.9"/>
<text x="423.0" y="299.6" font-family="'Liberation Serif', serif" font-size="7.6" fill="#2c2c2c" text-anchor="end"  stroke="#2c2c2c" stroke-width="0.2" xml:space="preserve">10</text>
<text x="438.1" y="305.7" font-family="'Liberation Serif', serif" font-size="8" fill="#2c2c2c" stroke="#2c2c2c" stroke-width="0.2" textLength="128.9" lengthAdjust="spacingAndGlyphs">RB4/AN8/CPS8/SCL1/SCK1/MDCIN2</text>
<line x1="412.5" y1="312.3" x2="431.4" y2="312.3" stroke="#3a3a48" stroke-width="1.0"/>
<line x1="409.5" y1="316.3" x2="431.0" y2="316.3" stroke="#E7B48E" stroke-width="1.0"/>
<polygon points="421.0,312.3 425.3,309.9 425.3,314.7" fill="none" stroke="#3a3a48" stroke-width="0.9"/>
<polygon points="425.3,309.9 429.8,312.3 425.3,314.7" fill="none" stroke="#3a3a48" stroke-width="0.9"/>
<text x="423.0" y="309.6" font-family="'Liberation Serif', serif" font-size="7.6" fill="#2c2c2c" text-anchor="end"  stroke="#2c2c2c" stroke-width="0.2" xml:space="preserve">11</text>
<text x="438.1" y="315.8" font-family="'Liberation Serif', serif" font-size="8" fill="#2c2c2c" stroke="#2c2c2c" stroke-width="0.2" textLength="155.9" lengthAdjust="spacingAndGlyphs">RB5/AN7/CPS7/P1B/TX/CK/SCL2/SCK2/SS1</text>
<line x1="412.5" y1="322.4" x2="431.4" y2="322.4" stroke="#3a3a48" stroke-width="1.0"/>
<line x1="409.5" y1="326.4" x2="431.0" y2="326.4" stroke="#E7B48E" stroke-width="1.0"/>
<polygon points="421.0,322.4 425.3,320.0 425.3,324.8" fill="none" stroke="#3a3a48" stroke-width="0.9"/>
<polygon points="425.3,320.0 429.8,322.4 425.3,324.8" fill="none" stroke="#3a3a48" stroke-width="0.9"/>
<polyline points="432.0,320.2 435.2,322.4 432.0,324.6" fill="none" stroke="#3a3a48" stroke-width="0.9"/>
<text x="423.0" y="319.7" font-family="'Liberation Serif', serif" font-size="7.6" fill="#2c2c2c" text-anchor="end"  stroke="#2c2c2c" stroke-width="0.2" xml:space="preserve">12</text>
<text x="440.4" y="325.9" font-family="'Liberation Serif', serif" font-size="8" fill="#2c2c2c" stroke="#2c2c2c" stroke-width="0.2" textLength="194.0" lengthAdjust="spacingAndGlyphs">RB6/AN5/CPS5/T1CKI/T1OSI/P1C/CCP2/P2A/ICSPCLK</text>
<line x1="412.5" y1="332.4" x2="431.4" y2="332.4" stroke="#3a3a48" stroke-width="1.0"/>
<line x1="409.5" y1="336.4" x2="431.0" y2="336.4" stroke="#E7B48E" stroke-width="1.0"/>
<polygon points="421.0,332.4 425.3,330.0 425.3,334.8" fill="none" stroke="#3a3a48" stroke-width="0.9"/>
<polygon points="425.3,330.0 429.8,332.4 425.3,334.8" fill="none" stroke="#3a3a48" stroke-width="0.9"/>
<polyline points="432.0,330.2 435.2,332.4 432.0,334.6" fill="none" stroke="#3a3a48" stroke-width="0.9"/>
<text x="423.0" y="329.8" font-family="'Liberation Serif', serif" font-size="7.6" fill="#2c2c2c" text-anchor="end"  stroke="#2c2c2c" stroke-width="0.2" xml:space="preserve">13</text>
<text x="440.4" y="335.9" font-family="'Liberation Serif', serif" font-size="8" fill="#2c2c2c" stroke="#2c2c2c" stroke-width="0.2" textLength="183.0" lengthAdjust="spacingAndGlyphs">RB7/AN6/CPS6/T1OSO/P1D/P2B/MDCIN1/ICSPDAT</text>
<line x1="524.2" y1="176.9" x2="537.6" y2="176.9" stroke="#2c2c2c" stroke-width="0.9"/>
<line x1="456.1" y1="217.2" x2="478.6" y2="217.2" stroke="#2c2c2c" stroke-width="0.9"/>
<line x1="499.4" y1="217.2" x2="511.6" y2="217.2" stroke="#2c2c2c" stroke-width="0.9"/>
<line x1="581.4" y1="307.7" x2="594.8" y2="307.7" stroke="#2c2c2c" stroke-width="0.9"/>
<line x1="411.7" y1="352.5" x2="431.4" y2="352.5" stroke="#3a3a48" stroke-width="1.0"/>
<line x1="672.4" y1="352.5" x2="693.1" y2="352.5" stroke="#3a3a48" stroke-width="1.0"/>
<text x="423.0" y="349.9" font-family="'Liberation Serif', serif" font-size="7.6" fill="#2c2c2c" text-anchor="end"  stroke="#2c2c2c" stroke-width="0.2" xml:space="preserve">5</text>
<text x="680.5" y="351.1" font-family="'Liberation Serif', serif" font-size="7.6" fill="#2c2c2c" text-anchor="start"  stroke="#2c2c2c" stroke-width="0.2" xml:space="preserve">14</text>
<text x="437.9" y="355.7" font-family="'Liberation Serif', serif" font-size="8" fill="#2c2c2c" text-anchor="start"  stroke="#2c2c2c" stroke-width="0.2" xml:space="preserve">VSS</text>
<text x="665.8" y="355.7" font-family="'Liberation Serif', serif" font-size="8" fill="#2c2c2c" text-anchor="end"  stroke="#2c2c2c" stroke-width="0.2" xml:space="preserve">VDD</text>
<polyline points="411.7,352.5 411.7,443.7" fill="none" stroke="#2a2a58" stroke-width="1.1"/>
<line x1="401.7" y1="443.7" x2="421.7" y2="443.7" stroke="#7c3c32" stroke-width="1.4"/>
<line x1="404.7" y1="446.8" x2="418.7" y2="446.8" stroke="#7c3c32" stroke-width="1.1"/>
<line x1="407.4" y1="449.7" x2="416.0" y2="449.7" stroke="#7c3c32" stroke-width="1.0"/>
<line x1="410.7" y1="452.6" x2="412.7" y2="452.6" stroke="#7c3c32" stroke-width="1.0"/>
<text x="411.7" y="461.2" font-family="'Liberation Serif', serif" font-size="7.3" fill="#8a4538" text-anchor="middle"  stroke="#8a4538" stroke-width="0.12" xml:space="preserve">GND</text>
<polyline points="371.6,383.1 371.6,231.8 411.0,231.8" fill="none" stroke="#2a2a58" stroke-width="1.1"/>
<polyline points="391.4,403.0 391.4,241.9 411.0,241.9" fill="none" stroke="#2a2a58" stroke-width="1.1"/>
<polyline points="411.0,262.0 179.8,262.0 179.8,416.6" fill="none" stroke="#2a2a58" stroke-width="1.1"/>
<polyline points="179.8,416.6 177.8,417.7 181.8,420.0 177.8,422.3 181.8,424.5 177.8,426.8 181.8,429.1 179.8,430.2" fill="none" stroke="#2f2f96" stroke-width="1.0"/>
<text x="182.7" y="420.3" font-family="'Liberation Serif', serif" font-size="8" fill="#33335e" text-anchor="start"  stroke="#33335e" stroke-width="0.2" xml:space="preserve">R2</text>
<text x="182.7" y="430.2" font-family="'Liberation Serif', serif" font-size="8" fill="#33335e" text-anchor="start"  stroke="#33335e" stroke-width="0.2" xml:space="preserve">240</text>
<polyline points="179.8,430.2 179.8,463.6" fill="none" stroke="#2a2a58" stroke-width="1.1"/>
<polygon points="169.5,463.6 190.1,463.6 179.8,472.5" fill="#1414e6"/>
<line x1="169.5" y1="472.9" x2="190.1" y2="472.9" stroke="#1414e6" stroke-width="1.2"/>
<line x1="194.1" y1="472.8" x2="198.8" y2="477.9" stroke="#1414e6" stroke-width="1.2"/>
<polygon points="200.8,480.0 195.8,478.7 199.3,475.1" fill="#1414e6"/>
<line x1="190.1" y1="477.7" x2="194.8" y2="482.8" stroke="#1414e6" stroke-width="1.2"/>
<polygon points="196.8,484.9 191.8,483.6 195.3,480.0" fill="#1414e6"/>
<polyline points="179.8,473.5 179.8,493.9" fill="none" stroke="#555566" stroke-width="1.1"/>
<text x="201.5" y="470.7" font-family="'Liberation Serif', serif" font-size="8" fill="#33335e" text-anchor="start"  stroke="#33335e" stroke-width="0.2" xml:space="preserve">VD1</text>
<polyline points="411.0,272.1 240.6,272.1 240.6,416.6" fill="none" stroke="#2a2a58" stroke-width="1.1"/>
<polyline points="240.6,416.6 238.6,417.7 242.6,420.0 238.6,422.3 242.6,424.5 238.6,426.8 242.6,429.1 240.6,430.2" fill="none" stroke="#2f2f96" stroke-width="1.0"/>
<text x="243.5" y="420.3" font-family="'Liberation Serif', serif" font-size="8" fill="#33335e" text-anchor="start"  stroke="#33335e" stroke-width="0.2" xml:space="preserve">R3</text>
<text x="243.5" y="430.2" font-family="'Liberation Serif', serif" font-size="8" fill="#33335e" text-anchor="start"  stroke="#33335e" stroke-width="0.2" xml:space="preserve">240</text>
<polyline points="240.6,430.2 240.6,463.6" fill="none" stroke="#2a2a58" stroke-width="1.1"/>
<polygon points="230.3,463.6 250.9,463.6 240.6,472.5" fill="#1414e6"/>
<line x1="230.3" y1="472.9" x2="250.9" y2="472.9" stroke="#1414e6" stroke-width="1.2"/>
<line x1="254.9" y1="472.8" x2="259.6" y2="477.9" stroke="#1414e6" stroke-width="1.2"/>
<polygon points="261.6,480.0 256.6,478.7 260.1,475.1" fill="#1414e6"/>
<line x1="250.9" y1="477.7" x2="255.6" y2="482.8" stroke="#1414e6" stroke-width="1.2"/>
<polygon points="257.6,484.9 252.6,483.6 256.1,480.0" fill="#1414e6"/>
<polyline points="240.6,473.5 240.6,493.9" fill="none" stroke="#555566" stroke-width="1.1"/>
<text x="262.3" y="470.7" font-family="'Liberation Serif', serif" font-size="8" fill="#33335e" text-anchor="start"  stroke="#33335e" stroke-width="0.2" xml:space="preserve">VD2</text>
<polyline points="411.0,282.1 300.7,282.1 300.7,416.6" fill="none" stroke="#2a2a58" stroke-width="1.1"/>
<polyline points="300.7,416.6 298.7,417.7 302.7,420.0 298.7,422.3 302.7,424.5 298.7,426.8 302.7,429.1 300.7,430.2" fill="none" stroke="#2f2f96" stroke-width="1.0"/>
<text x="303.6" y="420.3" font-family="'Liberation Serif', serif" font-size="8" fill="#33335e" text-anchor="start"  stroke="#33335e" stroke-width="0.2" xml:space="preserve">R4</text>
<text x="303.6" y="430.2" font-family="'Liberation Serif', serif" font-size="8" fill="#33335e" text-anchor="start"  stroke="#33335e" stroke-width="0.2" xml:space="preserve">240</text>
<polyline points="300.7,430.2 300.7,463.6" fill="none" stroke="#2a2a58" stroke-width="1.1"/>
<polygon points="290.4,463.6 311.0,463.6 300.7,472.5" fill="#1414e6"/>
<line x1="290.4" y1="472.9" x2="311.0" y2="472.9" stroke="#1414e6" stroke-width="1.2"/>
<line x1="315.0" y1="472.8" x2="319.7" y2="477.9" stroke="#1414e6" stroke-width="1.2"/>
<polygon points="321.7,480.0 316.7,478.7 320.2,475.1" fill="#1414e6"/>
<line x1="311.0" y1="477.7" x2="315.7" y2="482.8" stroke="#1414e6" stroke-width="1.2"/>
<polygon points="317.7,484.9 312.7,483.6 316.2,480.0" fill="#1414e6"/>
<polyline points="300.7,473.5 300.7,493.9" fill="none" stroke="#555566" stroke-width="1.1"/>
<text x="322.4" y="470.7" font-family="'Liberation Serif', serif" font-size="8" fill="#33335e" text-anchor="start"  stroke="#33335e" stroke-width="0.2" xml:space="preserve">VD3</text>
<polyline points="179.8,493.9 300.7,493.9" fill="none" stroke="#555566" stroke-width="1.1"/>
<circle cx="240.3" cy="493.3" r="2.05" fill="#1a1a66"/>
<polyline points="240.6,493.9 240.6,504.1" fill="none" stroke="#2a2a58" stroke-width="1.1"/>
<line x1="230.6" y1="504.1" x2="250.6" y2="504.1" stroke="#7c3c32" stroke-width="1.4"/>
<line x1="233.6" y1="507.2" x2="247.6" y2="507.2" stroke="#7c3c32" stroke-width="1.1"/>
<line x1="236.3" y1="510.1" x2="244.9" y2="510.1" stroke="#7c3c32" stroke-width="1.0"/>
<line x1="239.6" y1="513.0" x2="241.6" y2="513.0" stroke="#7c3c32" stroke-width="1.0"/>
<polyline points="371.6,383.1 703.1,383.1 703.1,131.6 757.2,131.6" fill="none" stroke="#2a2a58" stroke-width="1.1"/>
<polyline points="391.4,403.0 723.5,403.0 723.5,323.0 757.2,323.0" fill="none" stroke="#2a2a58" stroke-width="1.1"/>
<polyline points="757.2,131.6 758.2,133.4 760.3,129.8 762.4,133.4 764.5,129.8 766.6,133.4 768.7,129.8 769.7,131.6" fill="none" stroke="#2f2f96" stroke-width="1.0"/>
<text x="763.4" y="120.2" font-family="'Liberation Serif', serif" font-size="8" fill="#33335e" text-anchor="start"  stroke="#33335e" stroke-width="0.2" xml:space="preserve">R12</text>
<text x="763.6" y="149.3" font-family="'Liberation Serif', serif" font-size="8" fill="#33335e" text-anchor="start"  stroke="#33335e" stroke-width="0.2" xml:space="preserve">66</text>
<polyline points="769.7,131.6 807.4,131.6 807.4,136.2" fill="none" stroke="#2a2a58" stroke-width="1.1"/>
<rect x="796.3" y="125.6" width="76.4" height="31.8" fill="none" stroke="#3a3a90" stroke-width="1.1"/>
<polygon points="799.4,136.2 815.2,136.2 807.4,143.6" fill="#1414e6"/>
<line x1="799.4" y1="145.6" x2="815.0" y2="145.6" stroke="#5a5aa0" stroke-width="1.1"/>
<polyline points="807.4,143.6 807.4,151.4 784.4,151.4 784.4,192.7" fill="none" stroke="#2a2a58" stroke-width="1.1"/>
<line x1="819.1" y1="139.0" x2="824.1" y2="134.4" stroke="#3030c0" stroke-width="1.0"/>
<polygon points="825.9,132.6 822.2,133.6 824.9,136.3" fill="#3030c0"/>
<line x1="819.1" y1="143.2" x2="824.1" y2="138.6" stroke="#3030c0" stroke-width="1.0"/>
<polygon points="825.9,136.8 822.2,137.8 824.9,140.5" fill="#3030c0"/>
<polyline points="844.1,112.2 844.1,142.3 850.9,142.3" fill="none" stroke="#2a2a58" stroke-width="1.1"/>
<line x1="850.9" y1="135.0" x2="850.9" y2="149.5" stroke="#2a2a9a" stroke-width="1.8"/>
<polyline points="850.9,139.2 858.7,131.7 884.9,131.7" fill="none" stroke="#2a2a58" stroke-width="1.1"/>
<polyline points="850.9,145.2 857.5,150.6" fill="none" stroke="#2a2a58" stroke-width="1.1"/>
<polygon points="859.4,151.4 854.4,150.4 857.0,147.3" fill="#1414e6"/>
<polyline points="858.7,151.4 885.3,151.4 885.3,232.6" fill="none" stroke="#2a2a58" stroke-width="1.1"/>
<line x1="875.3" y1="232.6" x2="895.3" y2="232.6" stroke="#7c3c32" stroke-width="1.4"/>
<line x1="878.3" y1="235.7" x2="892.3" y2="235.7" stroke="#7c3c32" stroke-width="1.1"/>
<line x1="881.0" y1="238.6" x2="889.6" y2="238.6" stroke="#7c3c32" stroke-width="1.0"/>
<line x1="884.3" y1="241.5" x2="886.3" y2="241.5" stroke="#7c3c32" stroke-width="1.0"/>
<text x="885.3" y="250.1" font-family="'Liberation Serif', serif" font-size="7.3" fill="#8a4538" text-anchor="middle"  stroke="#8a4538" stroke-width="0.12" xml:space="preserve">GND</text>
<text x="793.0" y="166.8" font-family="'Liberation Serif', serif" font-size="8" fill="#33335e" text-anchor="start"  stroke="#33335e" stroke-width="0.2" xml:space="preserve">OC1</text>
<polygon points="774.1,192.7 794.7,192.7 784.4,201.9" fill="#1414e6"/>
<line x1="774.1" y1="202.3" x2="794.7" y2="202.3" stroke="#1414e6" stroke-width="1.2"/>
<line x1="798.7" y1="202.2" x2="803.4" y2="207.3" stroke="#1414e6" stroke-width="1.2"/>
<polygon points="805.4,209.4 800.4,208.1 803.9,204.5" fill="#1414e6"/>
<line x1="794.7" y1="207.1" x2="799.4" y2="212.2" stroke="#1414e6" stroke-width="1.2"/>
<polygon points="801.4,214.3 796.4,213.0 799.9,209.4" fill="#1414e6"/>
<polyline points="784.4,202.3 784.4,232.6" fill="none" stroke="#2a2a58" stroke-width="1.1"/>
<line x1="774.4" y1="232.6" x2="794.4" y2="232.6" stroke="#7c3c32" stroke-width="1.4"/>
<line x1="777.4" y1="235.7" x2="791.4" y2="235.7" stroke="#7c3c32" stroke-width="1.1"/>
<line x1="780.1" y1="238.6" x2="788.7" y2="238.6" stroke="#7c3c32" stroke-width="1.0"/>
<line x1="783.4" y1="241.5" x2="785.4" y2="241.5" stroke="#7c3c32" stroke-width="1.0"/>
<text x="784.4" y="250.1" font-family="'Liberation Serif', serif" font-size="7.3" fill="#8a4538" text-anchor="middle"  stroke="#8a4538" stroke-width="0.12" xml:space="preserve">GND</text>
<text x="805.9" y="198.9" font-family="'Liberation Serif', serif" font-size="8" fill="#33335e" text-anchor="start"  stroke="#33335e" stroke-width="0.2" xml:space="preserve">VD4</text>
<polyline points="884.9,91.2 884.9,104.4" fill="none" stroke="#2a2a58" stroke-width="1.1"/>
<polyline points="884.9,104.4 882.9,105.6 886.9,107.9 882.9,110.3 886.9,112.6 882.9,115.0 886.9,117.3 884.9,118.5" fill="none" stroke="#2f2f96" stroke-width="1.0"/>
<polyline points="884.9,118.5 884.9,131.7" fill="none" stroke="#2a2a58" stroke-width="1.1"/>
<text x="887.7" y="108.5" font-family="'Liberation Serif', serif" font-size="8" fill="#33335e" text-anchor="start"  stroke="#33335e" stroke-width="0.2" xml:space="preserve">R13</text>
<text x="887.7" y="119.0" font-family="'Liberation Serif', serif" font-size="8" fill="#33335e" text-anchor="start"  stroke="#33335e" stroke-width="0.2" xml:space="preserve">10 K</text>
<circle cx="884.6" cy="131.1" r="2.05" fill="#1a1a66"/>
<polyline points="884.9,131.7 962.6,131.7" fill="none" stroke="#2a2a58" stroke-width="1.1"/>
<line x1="963.2" y1="122.3" x2="963.2" y2="139.8" stroke="#3a3a90" stroke-width="1.1"/>
<line x1="965.6" y1="122.3" x2="965.6" y2="125.9" stroke="#2a2a80" stroke-width="1.4"/>
<line x1="965.6" y1="129.9" x2="965.6" y2="133.9" stroke="#2a2a80" stroke-width="1.4"/>
<line x1="965.6" y1="137.1" x2="965.6" y2="140.6" stroke="#2a2a80" stroke-width="1.4"/>
<polyline points="965.6,124.2 975.5,124.2" fill="none" stroke="#2a2a58" stroke-width="1.1"/>
<polyline points="975.5,121.4 985.5,121.4 985.5,141.8 975.5,141.8" fill="none" stroke="#2a2a58" stroke-width="1.1"/>
<polyline points="965.6,138.8 975.5,138.8" fill="none" stroke="#2a2a58" stroke-width="1.1"/>
<polyline points="975.5,131.6 975.5,161.4 1008.4,161.4" fill="none" stroke="#2a2a58" stroke-width="1.1"/>
<polyline points="970.0,131.6 975.5,131.6" fill="none" stroke="#2a2a58" stroke-width="1.1"/>
<polygon points="974.6,131.6 969.2,129.2 969.2,134.0" fill="#1414e6"/>
<polyline points="975.5,121.4 975.5,124.2" fill="none" stroke="#2a2a58" stroke-width="1.1"/>
<polygon points="982.3,128.3 988.7,128.3 985.5,133.8" fill="#1414e6"/>
<line x1="982.4" y1="133.8" x2="988.6" y2="133.8" stroke="#1414e6" stroke-width="1.0"/>
<text x="990.0" y="129.1" font-family="'Liberation Serif', serif" font-size="8" fill="#33335e" text-anchor="start"  stroke="#33335e" stroke-width="0.2" xml:space="preserve">Q1</text>
<polyline points="1012.4,157.0 1008.4,161.4 1012.4,165.8" fill="none" stroke="#4a4a70" stroke-width="1.0"/>
<polyline points="1016.7,157.0 1012.7,161.4 1016.7,165.8" fill="none" stroke="#4a4a70" stroke-width="1.0"/>
<text x="1019.5" y="164.8" font-family="'Liberation Serif', serif" font-size="8" fill="#363656" text-anchor="start" textLength="75.7" lengthAdjust="spacingAndGlyphs"  stroke="#363656" stroke-width="0.22" xml:space="preserve">OUT to  relay 1 (white)</text>
<polyline points="757.2,323.0 758.2,324.8 760.3,321.2 762.4,324.8 764.5,321.2 766.6,324.8 768.7,321.2 769.7,323.0" fill="none" stroke="#2f2f96" stroke-width="1.0"/>
<text x="763.4" y="311.6" font-family="'Liberation Serif', serif" font-size="8" fill="#33335e" text-anchor="start"  stroke="#33335e" stroke-width="0.2" xml:space="preserve">R14</text>
<text x="763.6" y="340.7" font-family="'Liberation Serif', serif" font-size="8" fill="#33335e" text-anchor="start"  stroke="#33335e" stroke-width="0.2" xml:space="preserve">66</text>
<polyline points="769.7,323.0 807.4,323.0 807.4,327.6" fill="none" stroke="#2a2a58" stroke-width="1.1"/>
<rect x="796.3" y="317.0" width="76.4" height="31.8" fill="none" stroke="#3a3a90" stroke-width="1.1"/>
<polygon points="799.4,327.6 815.2,327.6 807.4,335.0" fill="#1414e6"/>
<line x1="799.4" y1="337.0" x2="815.0" y2="337.0" stroke="#5a5aa0" stroke-width="1.1"/>
<polyline points="807.4,335.0 807.4,342.8 784.4,342.8 784.4,384.1" fill="none" stroke="#2a2a58" stroke-width="1.1"/>
<line x1="819.1" y1="330.4" x2="824.1" y2="325.8" stroke="#3030c0" stroke-width="1.0"/>
<polygon points="825.9,324.0 822.2,325.0 824.9,327.7" fill="#3030c0"/>
<line x1="819.1" y1="334.6" x2="824.1" y2="330.0" stroke="#3030c0" stroke-width="1.0"/>
<polygon points="825.9,328.2 822.2,329.2 824.9,331.9" fill="#3030c0"/>
<polyline points="844.1,303.6 844.1,333.7 850.9,333.7" fill="none" stroke="#2a2a58" stroke-width="1.1"/>
<line x1="850.9" y1="326.4" x2="850.9" y2="340.9" stroke="#2a2a9a" stroke-width="1.8"/>
<polyline points="850.9,330.6 858.7,323.1 884.9,323.1" fill="none" stroke="#2a2a58" stroke-width="1.1"/>
<polyline points="850.9,336.6 857.5,342.0" fill="none" stroke="#2a2a58" stroke-width="1.1"/>
<polygon points="859.4,342.8 854.4,341.8 857.0,338.7" fill="#1414e6"/>
<polyline points="858.7,342.8 885.3,342.8 885.3,424.0" fill="none" stroke="#2a2a58" stroke-width="1.1"/>
<line x1="875.3" y1="424.0" x2="895.3" y2="424.0" stroke="#7c3c32" stroke-width="1.4"/>
<line x1="878.3" y1="427.1" x2="892.3" y2="427.1" stroke="#7c3c32" stroke-width="1.1"/>
<line x1="881.0" y1="430.0" x2="889.6" y2="430.0" stroke="#7c3c32" stroke-width="1.0"/>
<line x1="884.3" y1="432.9" x2="886.3" y2="432.9" stroke="#7c3c32" stroke-width="1.0"/>
<text x="885.3" y="441.5" font-family="'Liberation Serif', serif" font-size="7.3" fill="#8a4538" text-anchor="middle"  stroke="#8a4538" stroke-width="0.12" xml:space="preserve">GND</text>
<text x="793.0" y="358.2" font-family="'Liberation Serif', serif" font-size="8" fill="#33335e" text-anchor="start"  stroke="#33335e" stroke-width="0.2" xml:space="preserve">OC2</text>
<polygon points="774.1,384.1 794.7,384.1 784.4,393.3" fill="#1414e6"/>
<line x1="774.1" y1="393.7" x2="794.7" y2="393.7" stroke="#1414e6" stroke-width="1.2"/>
<line x1="798.7" y1="393.6" x2="803.4" y2="398.7" stroke="#1414e6" stroke-width="1.2"/>
<polygon points="805.4,400.8 800.4,399.5 803.9,395.9" fill="#1414e6"/>
<line x1="794.7" y1="398.5" x2="799.4" y2="403.6" stroke="#1414e6" stroke-width="1.2"/>
<polygon points="801.4,405.7 796.4,404.4 799.9,400.8" fill="#1414e6"/>
<polyline points="784.4,393.7 784.4,424.0" fill="none" stroke="#2a2a58" stroke-width="1.1"/>
<line x1="774.4" y1="424.0" x2="794.4" y2="424.0" stroke="#7c3c32" stroke-width="1.4"/>
<line x1="777.4" y1="427.1" x2="791.4" y2="427.1" stroke="#7c3c32" stroke-width="1.1"/>
<line x1="780.1" y1="430.0" x2="788.7" y2="430.0" stroke="#7c3c32" stroke-width="1.0"/>
<line x1="783.4" y1="432.9" x2="785.4" y2="432.9" stroke="#7c3c32" stroke-width="1.0"/>
<text x="784.4" y="441.5" font-family="'Liberation Serif', serif" font-size="7.3" fill="#8a4538" text-anchor="middle"  stroke="#8a4538" stroke-width="0.12" xml:space="preserve">GND</text>
<text x="805.9" y="390.3" font-family="'Liberation Serif', serif" font-size="8" fill="#33335e" text-anchor="start"  stroke="#33335e" stroke-width="0.2" xml:space="preserve">VD5</text>
<polyline points="884.9,282.6 884.9,295.8" fill="none" stroke="#2a2a58" stroke-width="1.1"/>
<polyline points="884.9,295.8 882.9,297.0 886.9,299.3 882.9,301.7 886.9,304.0 882.9,306.4 886.9,308.7 884.9,309.9" fill="none" stroke="#2f2f96" stroke-width="1.0"/>
<polyline points="884.9,309.9 884.9,323.1" fill="none" stroke="#2a2a58" stroke-width="1.1"/>
<text x="887.7" y="299.9" font-family="'Liberation Serif', serif" font-size="8" fill="#33335e" text-anchor="start"  stroke="#33335e" stroke-width="0.2" xml:space="preserve">R15</text>
<text x="887.7" y="310.4" font-family="'Liberation Serif', serif" font-size="8" fill="#33335e" text-anchor="start"  stroke="#33335e" stroke-width="0.2" xml:space="preserve">10 K</text>
<circle cx="884.6" cy="322.5" r="2.05" fill="#1a1a66"/>
<polyline points="884.9,323.1 962.6,323.1" fill="none" stroke="#2a2a58" stroke-width="1.1"/>
<line x1="963.2" y1="313.7" x2="963.2" y2="331.2" stroke="#3a3a90" stroke-width="1.1"/>
<line x1="965.6" y1="313.7" x2="965.6" y2="317.3" stroke="#2a2a80" stroke-width="1.4"/>
<line x1="965.6" y1="321.3" x2="965.6" y2="325.3" stroke="#2a2a80" stroke-width="1.4"/>
<line x1="965.6" y1="328.5" x2="965.6" y2="332.0" stroke="#2a2a80" stroke-width="1.4"/>
<polyline points="965.6,315.6 975.5,315.6" fill="none" stroke="#2a2a58" stroke-width="1.1"/>
<polyline points="975.5,312.8 985.5,312.8 985.5,333.2 975.5,333.2" fill="none" stroke="#2a2a58" stroke-width="1.1"/>
<polyline points="965.6,330.2 975.5,330.2" fill="none" stroke="#2a2a58" stroke-width="1.1"/>
<polyline points="975.5,323.0 975.5,352.8 1008.4,352.8" fill="none" stroke="#2a2a58" stroke-width="1.1"/>
<polyline points="970.0,323.0 975.5,323.0" fill="none" stroke="#2a2a58" stroke-width="1.1"/>
<polygon points="974.6,323.0 969.2,320.6 969.2,325.4" fill="#1414e6"/>
<polyline points="975.5,312.8 975.5,315.6" fill="none" stroke="#2a2a58" stroke-width="1.1"/>
<polygon points="982.3,319.7 988.7,319.7 985.5,325.2" fill="#1414e6"/>
<line x1="982.4" y1="325.2" x2="988.6" y2="325.2" stroke="#1414e6" stroke-width="1.0"/>
<text x="990.0" y="320.5" font-family="'Liberation Serif', serif" font-size="8" fill="#33335e" text-anchor="start"  stroke="#33335e" stroke-width="0.2" xml:space="preserve">Q2</text>
<polyline points="1012.4,348.4 1008.4,352.8 1012.4,357.2" fill="none" stroke="#4a4a70" stroke-width="1.0"/>
<polyline points="1016.7,348.4 1012.7,352.8 1016.7,357.2" fill="none" stroke="#4a4a70" stroke-width="1.0"/>
<text x="1019.5" y="356.2" font-family="'Liberation Serif', serif" font-size="8" fill="#363656" text-anchor="start" textLength="79.5" lengthAdjust="spacingAndGlyphs"  stroke="#363656" stroke-width="0.22" xml:space="preserve">OUT to  relay 2 (yellow)</text>
<polyline points="884.9,91.2 975.3,91.2" fill="none" stroke="#2a2a58" stroke-width="1.1"/>
<circle cx="924.6" cy="90.6" r="2.05" fill="#1a1a66"/>
<circle cx="975.0" cy="90.6" r="2.05" fill="#1a1a66"/>
<polyline points="924.9,91.2 924.9,282.6" fill="none" stroke="#2a2a58" stroke-width="1.1"/>
<polyline points="884.9,282.6 975.5,282.6 975.5,312.8" fill="none" stroke="#2a2a58" stroke-width="1.1"/>
<circle cx="924.6" cy="282.0" r="2.05" fill="#1a1a66"/>
</g>
<rect x="753" y="513.7" width="350" height="1.3" fill="#141414"/></svg>
</body></html>
